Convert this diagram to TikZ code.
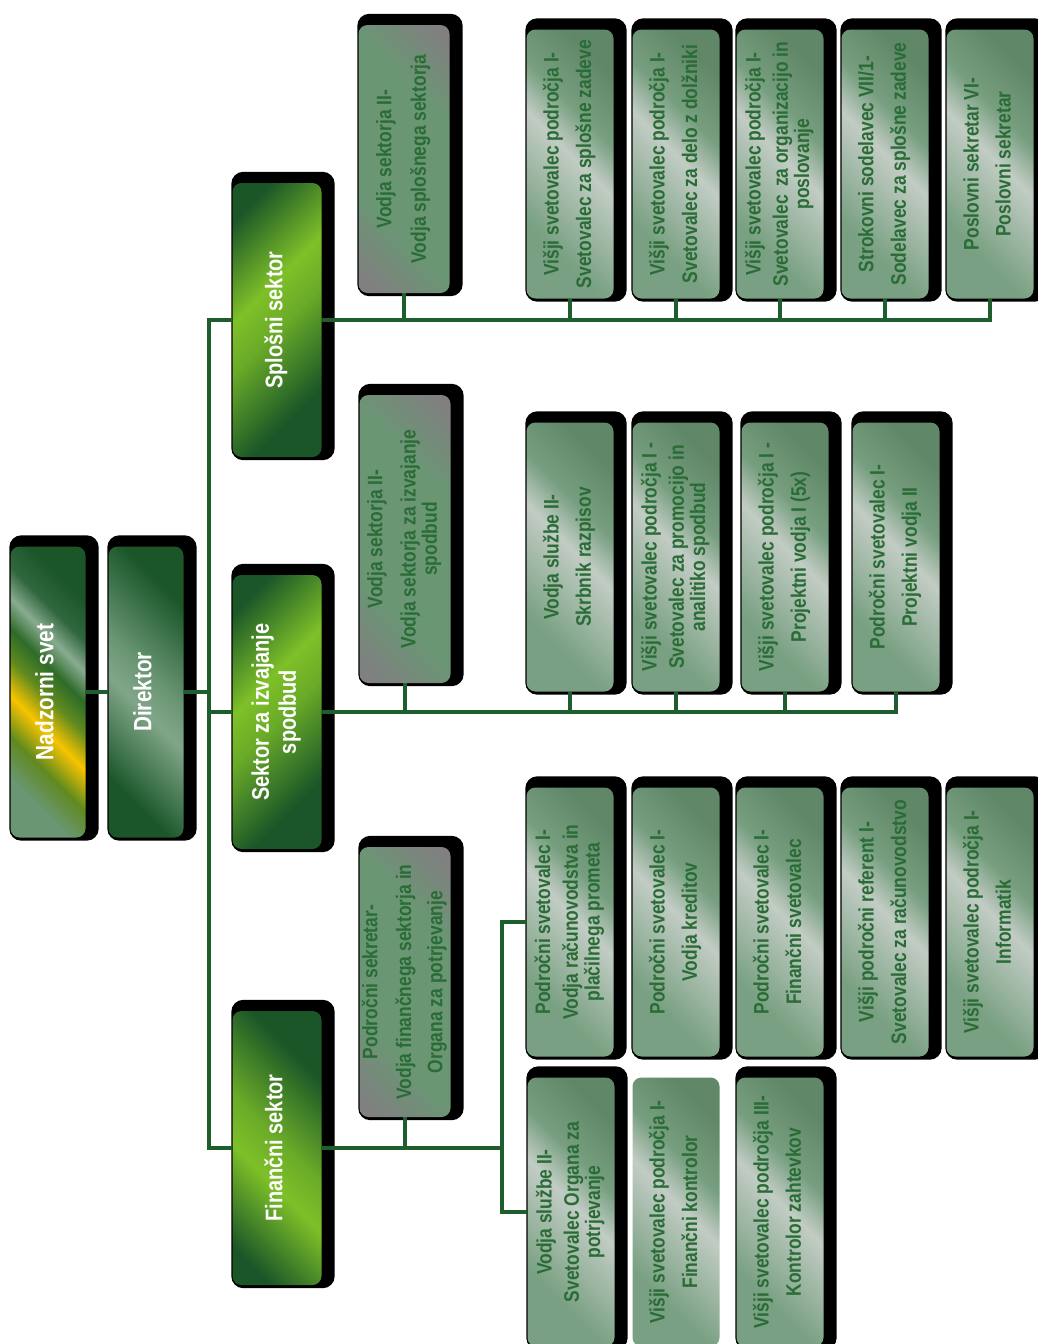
\documentclass[tikz,border=0pt]{standalone}
\usepackage{fontspec}
\setmainfont{Liberation Sans}[FakeStretch=0.83]
\usepackage{graphicx}
\usepackage{tikz}
\usetikzlibrary{positioning}
\definecolor{lnGreen}{RGB}{30,94,46}
\definecolor{txtGreen}{RGB}{42,108,54}
\definecolor{secDark}{RGB}{26,86,40}
\definecolor{secLime}{RGB}{126,192,40}
\definecolor{sage}{RGB}{106,150,116}
\definecolor{sageLight}{RGB}{194,204,196}
\definecolor{headGray}{RGB}{128,128,128}
\definecolor{goldTone}{RGB}{248,196,0}
\definecolor{oliveTone}{RGB}{96,138,30}
\pgfdeclarehorizontalshading{sektorshade}{100bp}{color(0bp)=(secDark); color(22bp)=(secDark); color(42bp)=(secLime); color(52bp)=(secLime!80!secDark); color(72bp)=(secDark); color(100bp)=(secDark)}
\pgfdeclarehorizontalshading{jobshade}{100bp}{color(0bp)=(sage!90!white); color(30bp)=(sage!90!white); color(52bp)=(sageLight); color(62bp)=(sage!92!white); color(76bp)=(sage!90!black); color(100bp)=(sage!90!black)}
\pgfdeclarehorizontalshading{headshade}{100bp}{color(0bp)=(headGray); color(18bp)=(headGray); color(34bp)=(sage); color(66bp)=(sage); color(82bp)=(headGray); color(100bp)=(headGray)}
\pgfdeclarehorizontalshading{nsshade}{100bp}{color(0bp)=(sage); color(26bp)=(sage); color(34bp)=(oliveTone); color(42bp)=(goldTone); color(49bp)=(oliveTone); color(55bp)=(secDark!80!secLime); color(61bp)=(sage!80!white); color(67bp)=(secDark!90!white); color(75bp)=(secDark); color(100bp)=(secDark)}
\pgfdeclarehorizontalshading{dirshade}{100bp}{color(0bp)=(secDark); color(26bp)=(secDark); color(46bp)=(sage!85!white); color(54bp)=(sage); color(74bp)=(secDark); color(100bp)=(secDark)}
\pgfdeclarelayer{shadow}
\pgfdeclarelayer{lines}
\pgfsetlayers{shadow,lines,main}
\newcommand{\vlabel}[1]{\rotatebox{90}{\begin{tabular}{@{}c@{}}#1\end{tabular}}}
\tikzset{
    orgbox/.style={rounded corners=9pt, inner sep=2pt, font=\bfseries\fontsize{21}{20}\selectfont},
    topbox/.style={orgbox, minimum height=291pt, minimum width=75pt, text=white, font=\bfseries\fontsize{25}{24}\selectfont},
    sectorbox/.style={orgbox, shading=sektorshade, shading angle=#1, minimum height=274pt, minimum width=89pt, text=white, font=\bfseries\fontsize{24}{27}\selectfont},
    sectorbox/.default=-45,
    headbox/.style={orgbox, shading=headshade, shading angle=45, minimum width=91pt, text=txtGreen},
    jobbox/.style={orgbox, shading=jobshade, shading angle=45, minimum height=269pt, minimum width=87pt, text=txtGreen},
    link/.style={draw=lnGreen, line width=4pt}
}

\begin{document}
\begin{tikzpicture}[x=1pt, y=-1pt]
\useasboundingbox (0,0) rectangle (1038,1344);

% top
\node[topbox, shading=nsshade, shading angle=45] (ns) at (48,692) {\vlabel{Nadzorni svet}};
\node[topbox, shading=dirshade, shading angle=45] (dir) at (146,692) {\vlabel{Direktor}};
\coordinate (trunk) at (209,692);

% sectors
\node[sectorbox=-45] (sSpl) at (277,320) {\vlabel{Splošni sektor}};
\node[sectorbox=-45] (sIzv) at (277,712) {\vlabel{Sektor za izvajanje\\spodbud}};
\node[sectorbox=45] (sFin) at (277,1148) {\vlabel{Finančni sektor}};

% heads
\node[headbox, minimum height=268pt] (vSpl) at (404,159) {\vlabel{Vodja sektorja II-\\[13pt]Vodja splošnega sektorja}};
\node[headbox, minimum height=288pt] (vIzv) at (405,539) {\vlabel{Vodja sektorja II-\\[12pt]Vodja sektorja za izvajanje\\spodbud}};
\node[headbox, minimum height=270pt] (vFin) at (405,982) {\vlabel{Področni sekretar-\\[12pt]Vodja finančnega sektorja in\\[10pt]Organa za potrjevanje}};

% Splosni sektor
\node[jobbox] (spl1) at (570,164) {\vlabel{Višji svetovalec področja I-\\[11pt]Svetovalec za splošne zadeve}};
\node[jobbox] (spl2) at (676,164) {\vlabel{Višji svetovalec področja I-\\[11pt]Svetovalec za delo z dolžniki}};
\node[jobbox] (spl3) at (780,164) {\vlabel{Višji svetovalec področja I-\\[6pt]Svetovalec\, za organizacijo in\\poslovanje}};
\node[jobbox] (spl4) at (885,164) {\vlabel{Strokovni sodelavec VII/1-\\[11pt]Sodelavec za splošne zadeve}};
\node[jobbox] (spl5) at (990,164) {\vlabel{Poslovni sekretar VI-\\[11pt]Poslovni sekretar}};

% Sektor za izvajanje spodbud
\node[jobbox] (izv1) at (570,557) {\vlabel{Vodja službe II-\\[11pt]Skrbnik razpisov}};
\node[jobbox] (izv2) at (676,557) {\vlabel{Višji svetovalec področja I -\\[6pt]Svetovalec za promocijo in\\analitiko spodbud}};
\node[jobbox] (izv3) at (785,557) {\vlabel{Višji svetovalec področja I -\\[11pt]Projektni vodja I (5x)}};
\node[jobbox] (izv4) at (896,557) {\vlabel{Področni svetovalec I-\\[11pt]Projektni vodja II}};

% Financni sektor
\node[jobbox] (fin1) at (570,922) {\vlabel{Področni svetovalec I-\\[6pt]Vodja računovodstva in\\plačilnega prometa}};
\node[jobbox] (fin2) at (676,922) {\vlabel{Področni svetovalec I-\\[11pt]Vodja kreditov}};
\node[jobbox] (fin3) at (780,922) {\vlabel{Področni svetovalec I-\\[11pt]Finančni svetovalec}};
\node[jobbox] (fin4) at (885,922) {\vlabel{Višji področni referent I-\\[11pt]Svetovalec za računovodstvo}};
\node[jobbox] (fin5) at (990,922) {\vlabel{Višji svetovalec področja I-\\[11pt]Informatik}};
\node[jobbox] (finb1) at (571,1212) {\vlabel{Vodja službe II-\\[6pt]Svetovalec Organa za\\potrjevanje}};
\node[jobbox] (finb2) at (676,1212) {\vlabel{Višji svetovalec področja I-\\[11pt]Finančni kontrolor}};
\node[jobbox] (finb3) at (780,1212) {\vlabel{Višji svetovalec področja III-\\[11pt]Kontrolor zahtevkov}};
\coordinate (finbus) at (502,1148);

\begin{pgfonlayer}{shadow}
\fill[white] (0,0) rectangle (1038,1344);
\foreach \n in {ns,dir,sSpl,sIzv,sFin,vSpl,vIzv,vFin,spl1,spl2,spl3,spl4,spl5,izv1,izv2,izv3,izv4,fin1,fin2,fin3,fin4,fin5,finb1,finb3}
    \fill[black, rounded corners=12pt] ([xshift=-1pt,yshift=-3pt]\n.south west) rectangle ([xshift=13pt,yshift=11pt]\n.north east);
\end{pgfonlayer}

\begin{pgfonlayer}{lines}
\draw[link] (ns) -- (dir) -- (trunk);
\draw[link] (sSpl) -- (trunk |- sSpl) -- (trunk |- sFin) -- (sFin);
\draw[link] (trunk |- sIzv) -- (sIzv);
\draw[link] (sSpl) -- (spl5 |- sSpl) -- (spl5);
\draw[link] (sIzv) -- (izv4 |- sIzv) -- (izv4);
\draw[link] (sFin) -- (finbus);
\draw[link] (fin1) -- (finbus |- fin1) -- (finbus |- finb1) -- (finb1);
\foreach \n in {vSpl,spl1,spl2,spl3,spl4}
    \draw[link] (\n) -- (\n |- sSpl);
\foreach \n in {vIzv,izv1,izv2,izv3}
    \draw[link] (\n) -- (\n |- sIzv);
\draw[link] (vFin) -- (vFin |- sFin);
\end{pgfonlayer}
\end{tikzpicture}
\end{document}
